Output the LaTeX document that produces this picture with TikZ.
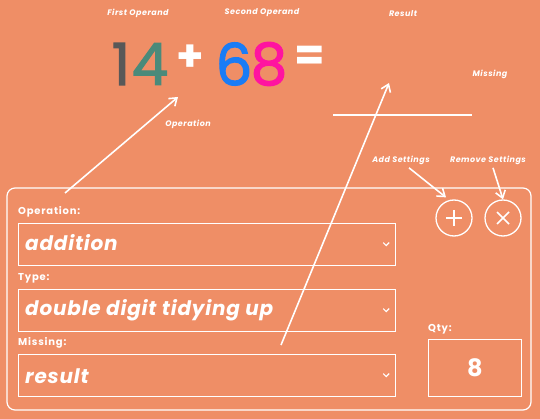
\documentclass[tikz,border=0pt]{standalone}
\usepackage{fontspec}
\setmainfont{Poppins}
\usetikzlibrary{arrows.meta}
\definecolor{bgsalmon}{HTML}{EF8E66}
\definecolor{inkgray}{HTML}{585858}
\definecolor{inkteal}{HTML}{4A8A7A}
\definecolor{inkblue}{HTML}{1A7CF5}
\definecolor{inkpink}{HTML}{FF14A0}
\tikzset{
  hint/.style={text=white, font=\addfontfeature{LetterSpace=6}\bfseries\itshape\fontsize{8}{9}\selectfont},
  caption/.style={text=white, font=\addfontfeature{LetterSpace=8}\bfseries\fontsize{10}{11}\selectfont, anchor=west, inner sep=0pt},
  field/.style={draw=white, line width=1.2pt, minimum width=377pt, minimum height=42pt, anchor=north west, inner sep=0pt},
  choice/.style={text=white, font=\addfontfeature{LetterSpace=4}\bfseries\itshape\fontsize{20}{22}\selectfont, anchor=west, inner sep=0pt},
  digit/.style={font=\addfontfeature{FakeBold=2}\fontsize{58}{64}\selectfont, inner sep=0pt},
  sign/.style={text=white, font=\bfseries\fontsize{44}{48}\selectfont, inner sep=0pt},
  roundbtn/.style={circle, draw=white, line width=1.3pt, minimum size=36pt, inner sep=0pt},
  pointer/.style={draw=white, line width=1.6pt, -{Straight Barb[length=7pt,width=10pt]}}
}
\begin{document}
\begin{tikzpicture}[x=1pt,y=-1pt]
  \fill[bgsalmon] (0,0) rectangle (540,419);
  \useasboundingbox (0,0) rectangle (540,419);
  % the sum
  \node[hint] (firstlbl) at (138,13) {First Operand};
  \node[hint] (secondlbl) at (262,13) {Second Operand};
  \node[hint] (resultlbl) at (403,14) {Result};
  \node[hint] (missinglbl) at (490,74) {Missing};
  \node[hint] (oplbl) at (188,124) {Operation};
  \node[digit, text=inkgray] (dA) at (121,64) {1};
  \node[digit, text=inkteal] (dB) at (150,64) {4};
  \node[sign] (plus) at (190,58) {+};
  \node[digit, text=inkblue] (dC) at (234,64) {6};
  \node[digit, text=inkpink] (dD) at (269,64) {8};
  \node[sign] (eq) at (310,58) {=};
  \coordinate (blankL) at (333,115);
  \coordinate (blankR) at (472,115);
  \draw[white, line width=1.2pt] (blankL) -- (blankR);
  % settings panel
  \draw[white, line width=1.2pt, rounded corners=8pt] (7,188) rectangle (531,410);
  \node[caption] (opcap) at (18,212) {Operation:};
  \node[field] (opbox) at (18,223) {};
  \node[choice] (opval) at (25,243) {addition};
  \node[caption] (typecap) at (18,278) {Type:};
  \node[field] (typebox) at (18,289) {};
  \node[choice] (typeval) at (25,310) {double digit tidying up};
  \node[caption] (misscap) at (18,343) {Missing:};
  \node[field] (missbox) at (18,354) {};
  \node[choice] (missval) at (25,376) {result};
  \foreach \b in {opbox,typebox,missbox}
    \draw[white, line width=1.2pt] ([shift={(-13,-2)}]\b.east) -- ++(3,3) -- ++(3,-3);
  \node[caption] (qtycap) at (428,329) {Qty:};
  \node[draw=white, line width=1.2pt, minimum width=93pt, minimum height=57pt, inner sep=0pt,
        text=white, font=\bfseries\fontsize{24}{26}\selectfont] (qtybox) at (475,368) {8};
  \node[roundbtn] (addbtn) at (454,218) {};
  \node[roundbtn] (delbtn) at (503,218) {};
  \draw[white, line width=1.6pt] ([xshift=-8pt]addbtn.center) -- ([xshift=8pt]addbtn.center)
    ([yshift=-8pt]addbtn.center) -- ([yshift=8pt]addbtn.center);
  \draw[white, line width=1.6pt] ([shift={(-6,-6)}]delbtn.center) -- ([shift={(6,6)}]delbtn.center)
    ([shift={(-6,6)}]delbtn.center) -- ([shift={(6,-6)}]delbtn.center);
  \node[hint] (addlbl) at (401,160) {Add Settings};
  \node[hint] (dellbl) at (488,160) {Remove Settings};
  % arrows
  \coordinate (opfrom) at (65,193);
  \coordinate (opto) at (178,97);
  \coordinate (missfrom) at (281,345);
  \coordinate (missto) at (389,83);
  \draw[pointer] (opfrom) -- (opto);
  \draw[pointer] (missfrom) -- (missto);
  \draw[pointer] ([xshift=8pt]addlbl.south) -- ([shift={(-8,-2)}]addbtn.north);
  \draw[pointer] ([xshift=5pt]dellbl.south) -- (delbtn.north);
\end{tikzpicture}
\end{document}
